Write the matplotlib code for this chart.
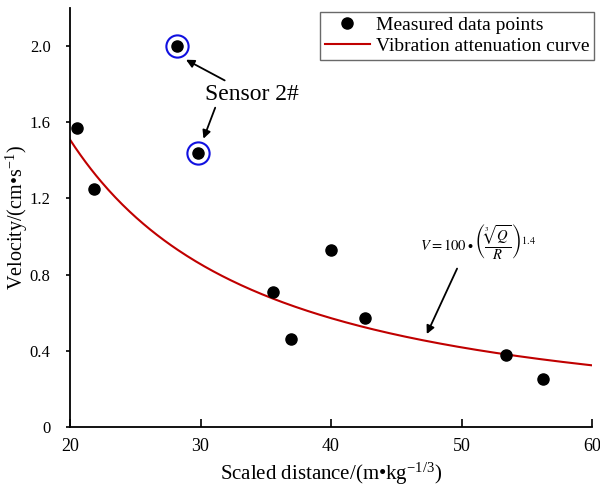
import matplotlib
matplotlib.use('Agg')
import matplotlib.pyplot as plt
import numpy as np

plt.rcParams['font.family'] = 'Liberation Serif'
plt.rcParams['mathtext.fontset'] = 'stix'

# measured peak particle velocity vs scaled distance
scaled_dist = [20.5, 21.85, 28.2, 29.8, 35.55, 36.9, 40.0, 42.6, 53.4, 56.25]
velocity = [1.57, 1.25, 2.0, 1.44, 0.71, 0.46, 0.93, 0.57, 0.38, 0.25]
sensor2_idx = [2, 3]

# fitted attenuation law V = K * (Q^(1/3)/R)^alpha
K = 100
alpha = 1.4
x_fit = np.linspace(20, 60, 300)
v_fit = K * (1.0 / x_fit) ** alpha

fig = plt.figure(figsize=(6, 4.96), dpi=100)
ax = fig.add_axes([0.1167, 0.139, 0.87, 0.845])

ax.plot(scaled_dist, velocity, 'o', color='black', ms=8, label='Measured data points', zorder=3)
ax.plot(x_fit, v_fit, color='#c00000', lw=1.5, label='Vibration attenuation curve', zorder=2)
ax.plot([scaled_dist[i] for i in sensor2_idx], [velocity[i] for i in sensor2_idx], 'o',
        ms=16, mfc='none', mec='#1010e0', mew=1.5, zorder=4)

ax.set_xlim(20, 60)
ax.set_ylim(0, 2.2)
ax.set_xticks([20, 30, 40, 50, 60])
ax.set_yticks([0, 0.4, 0.8, 1.2, 1.6, 2.0])
ax.set_yticklabels(['0', '0.4', '0.8', '1.2', '1.6', '2.0'])
ax.tick_params(axis='x', direction='in', length=6, width=1.2, labelsize=13, pad=8)
ax.tick_params(axis='y', direction='out', length=3, width=1.2, labelsize=12, pad=11)
for s in ['top', 'right']:
    ax.spines[s].set_visible(False)
for s in ['left', 'bottom']:
    ax.spines[s].set_linewidth(1.3)

ax.set_xlabel(r'Scaled distance/(m•kg$^{\mathregular{-1/3}}$)', fontsize=15, labelpad=4)
ax.set_ylabel(r'Velocity/(cm•s$^{\mathregular{-1}}$)', fontsize=14.5)
ax.yaxis.set_label_coords(-0.077, 0.5)

arrow = dict(arrowstyle='-|>', color='black', lw=1.3, mutation_scale=12, shrinkA=2, shrinkB=2)
ax.annotate('Sensor 2#', xy=(28.7, 1.935), xytext=(30.35, 1.743), fontsize=17,
            ha='left', va='center', arrowprops=arrow)
ax.annotate('', xy=(30.15, 1.50), xytext=(31.2, 1.69), arrowprops=arrow)

ax.text(46.8, 0.975, r'$V=100\bullet\left(\dfrac{\sqrt[3]{Q}}{R}\right)^{1.4}$',
        fontsize=10.5, ha='left', va='center')
ax.annotate('', xy=(47.25, 0.475), xytext=(49.75, 0.845), arrowprops=arrow)

ax.legend(loc='upper right', bbox_to_anchor=(1.015, 1.005), fontsize=14, frameon=True,
          fancybox=False, edgecolor='#444444', handlelength=2.3, handletextpad=0.3,
          borderpad=0.25, labelspacing=0.15, borderaxespad=0.3)

fig.savefig('out.png', dpi=100)
